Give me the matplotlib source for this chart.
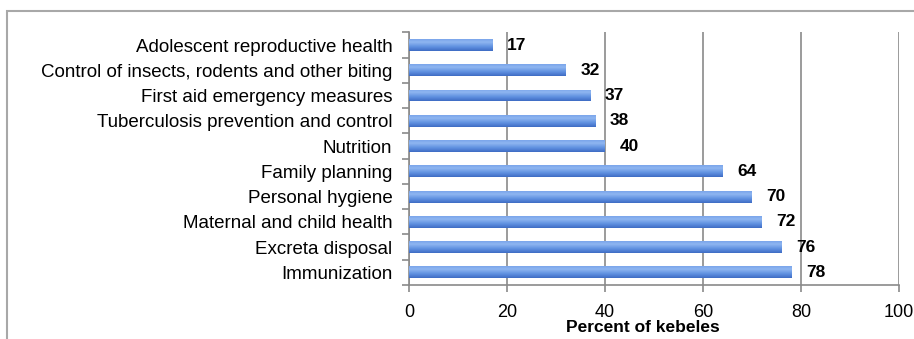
import numpy as np
import matplotlib
matplotlib.use("Agg")
import matplotlib.pyplot as plt
from matplotlib.colors import LinearSegmentedColormap
from matplotlib.patches import Rectangle

plt.rcParams["font.family"] = ["Liberation Sans", "DejaVu Sans"]

topics = [
    "Adolescent reproductive health",
    "Control of insects, rodents and other biting",
    "First aid emergency measures",
    "Tuberculosis prevention and control",
    "Nutrition",
    "Family planning",
    "Personal hygiene",
    "Maternal and child health",
    "Excreta disposal",
    "Immunization",
]
percent = [17, 32, 37, 38, 40, 64, 70, 72, 76, 78]
x_ticks = [0, 20, 40, 60, 80, 100]
x_label = "Percent of kebeles"

grid_col = "#8a8a8a"
W, H = 914, 339
fig = plt.figure(figsize=(W / 100, H / 100), dpi=100)
ax = fig.add_axes([409 / W, 1 - 285 / H, 490 / W, (285 - 32.4) / H])

ypos = np.arange(len(topics))
bars = ax.barh(ypos, percent, height=0.47, color="#5f90e0", zorder=3)

# vertical shading on each bar
shade = LinearSegmentedColormap.from_list(
    "barshade",
    [(0.0, "#3e6cc4"), (0.35, "#5f90e0"), (0.75, "#8fb6f1"), (1.0, "#7aa5ea")],
)
grad = np.linspace(0, 1, 64).reshape(-1, 1)
for b in bars:
    x0, y0 = b.get_x(), b.get_y()
    w, h = b.get_width(), b.get_height()
    im = ax.imshow(grad, cmap=shade, aspect="auto", origin="lower",
                   extent=(x0, x0 + w, y0 + h, y0), zorder=4)
    im.set_clip_path(b)

for y, v in zip(ypos, percent):
    ax.text(v + 3.0, y, f"{v}", va="center", ha="left", fontsize=12.5,
            fontweight="bold", color="black", zorder=5)

ax.set_xlim(0, 100)
ax.set_ylim(len(topics) - 0.5, -0.5)
ax.set_xticks(x_ticks)
ax.set_xticklabels([str(t) for t in x_ticks], fontsize=13)
ax.set_yticks(ypos)
ax.set_yticklabels(topics, fontsize=13.5)
ax.set_yticks(np.arange(len(topics) + 1) - 0.5, minor=True)
ax.tick_params(axis="y", which="major", length=0, pad=12)
ax.tick_params(axis="y", which="minor", length=5, color=grid_col, width=1.2, direction="out")
ax.tick_params(axis="x", which="major", length=5, color=grid_col, width=1.2, pad=9)

ax.set_xlabel(x_label, fontsize=12.5, fontweight="bold")
ax.xaxis.set_label_coords(0.478, -0.138)

ax.grid(axis="x", color=grid_col, linewidth=1.2, zorder=1)
ax.set_axisbelow(True)
for s in ["top", "right"]:
    ax.spines[s].set_visible(False)
for s in ["left", "bottom"]:
    ax.spines[s].set_color(grid_col)
    ax.spines[s].set_linewidth(1.2)

# chart area border
fig.patches.append(Rectangle((7 / W, -0.1), 1.2, 1 - 11 / H + 0.1,
                             transform=fig.transFigure, fill=False,
                             edgecolor="#a8a8a8", linewidth=1.5))

fig.savefig("out.png", dpi=100)
